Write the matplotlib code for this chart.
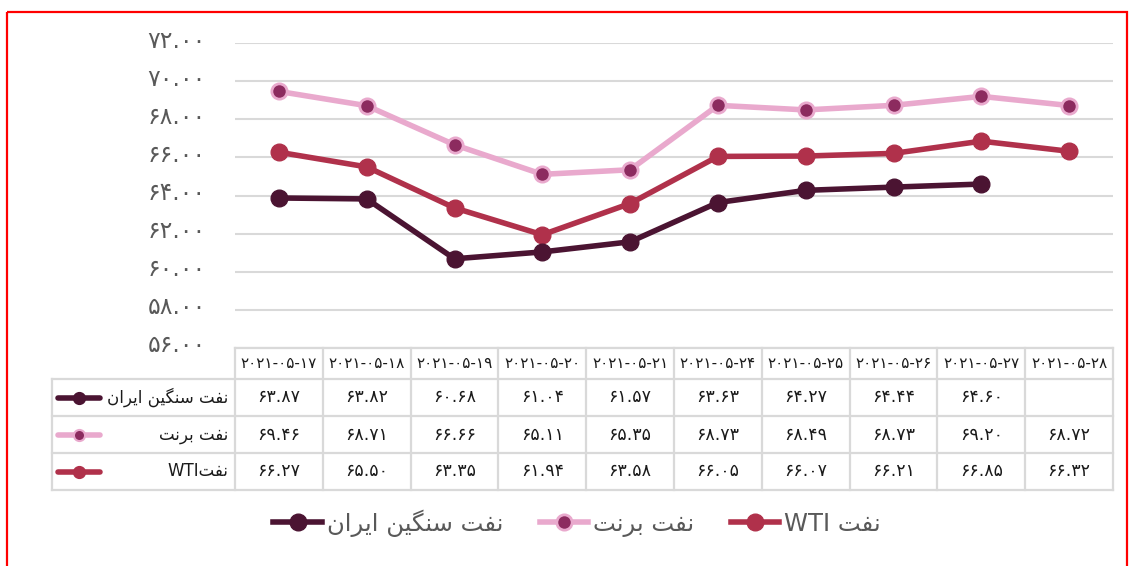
import numpy as np
import matplotlib
matplotlib.use('Agg')
import matplotlib.pyplot as plt
import matplotlib.transforms as mtransforms
from matplotlib.lines import Line2D
from matplotlib.patches import Rectangle

plt.rcParams['font.family'] = ['DejaVu Sans']

# data
dates = ['2021-05-17', '2021-05-18', '2021-05-19', '2021-05-20', '2021-05-21',
         '2021-05-24', '2021-05-25', '2021-05-26', '2021-05-27', '2021-05-28']
iran = [63.87, 63.82, 60.68, 61.04, 61.57, 63.63, 64.27, 64.44, 64.60, np.nan]
brent = [69.46, 68.71, 66.66, 65.11, 65.35, 68.73, 68.49, 68.73, 69.20, 68.72]
wti = [66.27, 65.50, 63.35, 61.94, 63.58, 66.05, 66.07, 66.21, 66.85, 66.32]
yticks = [56, 58, 60, 62, 64, 66, 68, 70, 72]

# persian words, written as visual-order presentation forms
NAFT = '\ufe96\ufed4\ufee7'
SANGIN = '\ufee6\ufbff\ufb95\ufee8\ufeb3'
IRAN = '\ufee5\ufe8d\ufeae\ufbfe\ufe8d'
BRENT = '\ufe96\ufee7\ufeae\ufe91'
lab_iran = IRAN + ' ' + SANGIN + ' ' + NAFT
lab_brent = BRENT + ' ' + NAFT
lab_wti = 'WTI ' + NAFT
row_labels = [lab_iran, lab_brent, 'WTI' + NAFT]

fa = str.maketrans('0123456789', '\u06f0\u06f1\u06f2\u06f3\u06f4\u06f5\u06f6\u06f7\u06f8\u06f9')

def fnum(v):
    return ('%.2f' % v).translate(fa)

c_iran = '#4b1432'
c_brent = '#e9a9cd'
c_brent_m = '#8c2b5f'
c_wti = '#b0314b'
grid_c = '#d9d9d9'

W, H = 1131, 566
fig = plt.figure(figsize=(W / 100, H / 100), dpi=100)

# background axes in pixel units for table, border
bg = fig.add_axes([0, 0, 1, 1])
bg.set_xlim(0, W)
bg.set_ylim(H, 0)
bg.axis('off')
bg.add_patch(Rectangle((7, 12), 1120, 600, fill=False, ec='#ff0000', lw=1.6))

# chart axes
x0, x1, ytop, ybot = 235, 1113, 43, 348
ax = fig.add_axes([x0 / W, (H - ybot) / H, (x1 - x0) / W, (ybot - ytop) / H])
x = np.arange(len(dates))
ax.set_xlim(-0.5, len(dates) - 0.5)
ax.set_ylim(56, 72)
ax.set_yticks(yticks)
ax.set_yticklabels([fnum(v) for v in yticks], fontsize=17, color='#595959')
ax.tick_params(axis='y', length=0, pad=21)
shift = mtransforms.ScaledTranslation(0, 5 / 100, fig.dpi_scale_trans)
for lbl in ax.get_yticklabels():
    lbl.set_transform(lbl.get_transform() + shift)
ax.set_xticks([])
for s in ax.spines.values():
    s.set_visible(False)
ax.grid(axis='y', color=grid_c, lw=1.5)
ax.set_axisbelow(True)
ax.patch.set_alpha(0)

ax.plot(x, brent, color=c_brent, lw=4, marker='o', ms=11, mfc=c_brent_m, mec=c_brent, mew=2,
        solid_capstyle='round', zorder=3)
ax.plot(x, wti, color=c_wti, lw=4, marker='o', ms=12, mfc=c_wti, mec=c_wti,
        solid_capstyle='round', zorder=3)
ax.plot(x, iran, color=c_iran, lw=4, marker='o', ms=12, mfc=c_iran, mec=c_iran,
        solid_capstyle='round', zorder=3)

# data table under the chart
col_w = (x1 - x0) / len(dates)
rows_y = [348, 379, 416, 453, 490]
tl = dict(color=grid_c, lw=1.6)
bg.plot([x0, x1], [rows_y[0], rows_y[0]], **tl)
for yy in rows_y[1:]:
    bg.plot([52, x1], [yy, yy], **tl)
bg.plot([52, 52], [rows_y[1], rows_y[-1]], **tl)
for i in range(len(dates) + 1):
    xx = x0 + i * col_w
    bg.plot([xx, xx], [rows_y[0], rows_y[-1]], **tl)

for i, d in enumerate(dates):
    cx = x0 + (i + 0.5) * col_w
    bg.text(cx, (rows_y[0] + rows_y[1]) / 2, d.translate(fa), ha='center', va='center',
            fontsize=11, color='#1a1a1a')
    for r, series in enumerate([iran, brent, wti]):
        v = series[i]
        if np.isnan(v):
            continue
        bg.text(cx, (rows_y[r + 1] + rows_y[r + 2]) / 2, fnum(v), ha='center', va='center',
                fontsize=12.5, color='#1a1a1a')

keys = [(c_iran, c_iran, c_iran), (c_brent, c_brent_m, c_brent), (c_wti, c_wti, c_wti)]
for r, (lc, mf, me) in enumerate(keys):
    cy = (rows_y[r + 1] + rows_y[r + 2]) / 2
    bg.add_line(Line2D([58, 100], [cy, cy], color=lc, lw=4, solid_capstyle='round'))
    bg.add_line(Line2D([79], [cy], marker='o', ms=8, mfc=mf, mec=me, mew=1.5, ls='none'))
    bg.text(228, cy, row_labels[r], ha='right', va='center', fontsize=12, color='#1a1a1a')

# legend
handles = [
    Line2D([], [], color=c_iran, lw=4, marker='o', ms=12, mfc=c_iran, mec=c_iran),
    Line2D([], [], color=c_brent, lw=4, marker='o', ms=11, mfc=c_brent_m, mec=c_brent, mew=2),
    Line2D([], [], color=c_wti, lw=4, marker='o', ms=12, mfc=c_wti, mec=c_wti),
]
leg = fig.legend(handles, [lab_iran, lab_brent, lab_wti], loc='center', ncol=3,
                 bbox_to_anchor=(577 / W, (H - 523) / H), frameon=False, fontsize=17.5,
                 handlelength=2.0, handletextpad=0.2, columnspacing=1.5)
for t in leg.get_texts():
    t.set_color('#595959')

fig.savefig('out.png', dpi=100)
